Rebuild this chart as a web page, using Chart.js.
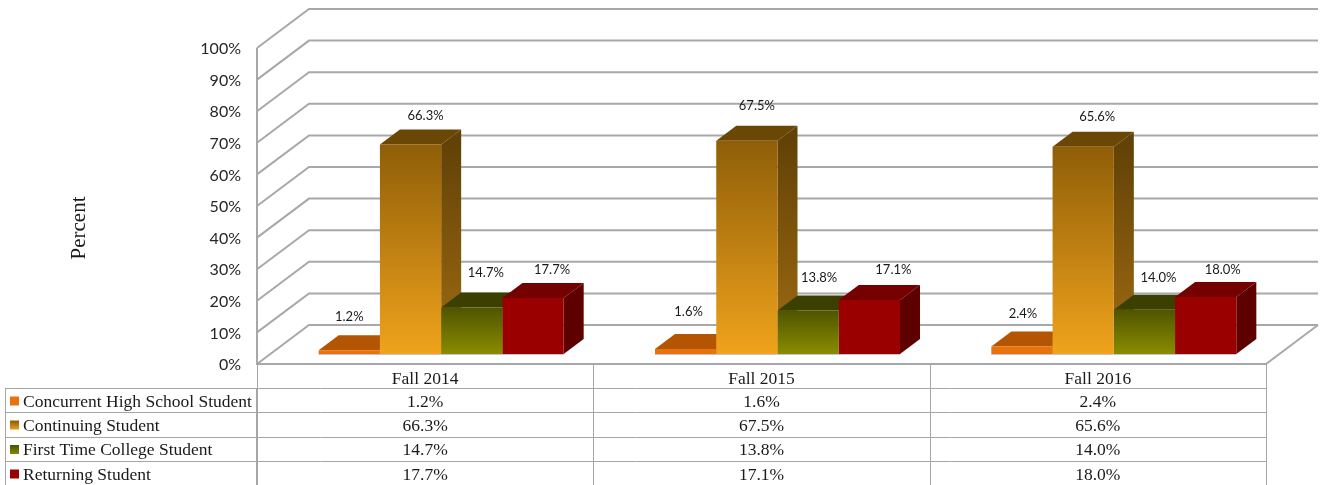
<!DOCTYPE html>
<html>
<head>
<meta charset="utf-8">
<title>Student type by fall term</title>
<script src="https://cdn.jsdelivr.net/npm/chart.js@4"></script>
<style>
  html, body { margin: 0; padding: 0; background: #fff; overflow: hidden; }
  canvas { display: block; }
</style>
</head>
<body>
<canvas id="barChart" width="1323" height="485"></canvas>
<script>
const terms = ['Fall 2014', 'Fall 2015', 'Fall 2016'];
const concurrent = [1.2, 1.6, 2.4];
const continuing = [66.3, 67.5, 65.6];
const firstTime = [14.7, 13.8, 14.0];
const returning = [17.7, 17.1, 18.0];

// x, y nudges for the data labels, they were hand placed in the original
const labelNudges = [
  [[0, -33], [3, -37], [1, -33]],
  [[15, -29], [10, -35], [14, -30]],
  [[14, -35], [11, -33], [14, -32]],
  [[19, -28], [24, -30], [17, -27]]
];

const grid = '#a8a8a8';
const floorShift = { x: 16, y: 10 };   // bars stand this far in from the front edge of the floor
const wallDepth = { x: 52, y: -39 };
const barDepth = { x: 20, y: -15 };

function frontGradient(ctx, top, bottom, from, to) {
  const g = ctx.createLinearGradient(0, top, 0, bottom);
  g.addColorStop(0, from);
  g.addColorStop(1, to);
  return g;
}

function makeDataset(label, data, colors) {
  return {
    label: label,
    data: data,
    colors: colors,
    backgroundColor: function(c) {
      const el = c.element;
      if (!el || !c.chart.chartArea) return colors.to;
      const y = c.chart.scales.y;
      const top = y.getPixelForValue(c.raw);
      return frontGradient(c.chart.ctx, top, y.getPixelForValue(0), colors.from, colors.to);
    },
    borderWidth: 0
  };
}

// back wall, side wall and floor, all from the value scale
const wallsPlugin = {
  id: 'walls',
  beforeDatasetsDraw(chart) {
    const ctx = chart.ctx;
    const y = chart.scales.y;
    const left = chart.chartArea.left - floorShift.x;
    const right = chart.chartArea.right - floorShift.x;
    ctx.save();
    ctx.strokeStyle = grid;
    ctx.lineWidth = 2;
    ctx.lineJoin = 'miter';
    y.ticks.forEach(function(t) {
      const py = y.getPixelForValue(t.value) + floorShift.y;
      ctx.beginPath();
      ctx.moveTo(left, py);
      ctx.lineTo(left + wallDepth.x, py + wallDepth.y);
      ctx.lineTo(right + wallDepth.x, py + wallDepth.y);
      ctx.stroke();
    });
    const zero = y.getPixelForValue(0) + floorShift.y;
    ctx.beginPath();
    ctx.moveTo(left, y.getPixelForValue(100) + floorShift.y);
    ctx.lineTo(left, zero);
    ctx.lineTo(right, zero);
    ctx.lineTo(right + wallDepth.x, zero + wallDepth.y);
    ctx.stroke();
    ctx.restore();
  }
};

// top and side of each bar, the front is the real chart.js bar
const barSidesPlugin = {
  id: 'barSides',
  beforeDatasetsDraw(chart) {
    const ctx = chart.ctx;
    const base = chart.scales.y.getPixelForValue(0);
    chart.data.datasets.forEach(function(ds, i) {
      chart.getDatasetMeta(i).data.forEach(function(bar) {
        const l = bar.x - bar.width / 2;
        const r = bar.x + bar.width / 2;
        const t = bar.y;
        ctx.fillStyle = ds.colors.top;
        ctx.beginPath();
        ctx.moveTo(l, t);
        ctx.lineTo(l + barDepth.x, t + barDepth.y);
        ctx.lineTo(r + barDepth.x, t + barDepth.y);
        ctx.lineTo(r, t);
        ctx.closePath();
        ctx.fill();
        ctx.fillStyle = frontGradient(ctx, t, base, ds.colors.sideFrom, ds.colors.sideTo);
        ctx.beginPath();
        ctx.moveTo(r, t);
        ctx.lineTo(r + barDepth.x, t + barDepth.y);
        ctx.lineTo(r + barDepth.x, base + barDepth.y);
        ctx.lineTo(r, base);
        ctx.closePath();
        ctx.fill();
        // faint shadow along the foot of the bar
        ctx.fillStyle = '#c4c4c4';
        ctx.fillRect(l, base, r - l, 1);
      });
    });
  }
};

const dataLabelsPlugin = {
  id: 'dataLabels',
  afterDatasetsDraw(chart) {
    const ctx = chart.ctx;
    ctx.save();
    ctx.font = '13px Lato';
    ctx.fillStyle = '#1a1a1a';
    ctx.textAlign = 'center';
    ctx.textBaseline = 'middle';
    chart.data.datasets.forEach(function(ds, i) {
      chart.getDatasetMeta(i).data.forEach(function(bar, j) {
        const n = labelNudges[i][j];
        ctx.fillText(ds.data[j].toFixed(1) + '%', bar.x + n[0], bar.y + n[1]);
      });
    });
    ctx.restore();
  }
};

// the data table under the plot, with the legend keys in its first column
const dataTablePlugin = {
  id: 'dataTable',
  afterDraw(chart) {
    const ctx = chart.ctx;
    const left = chart.chartArea.left - floorShift.x;
    const colWidth = chart.chartArea.width / terms.length;
    const tableLeft = 5;
    const headTop = 364;
    const rowLines = [389, 413, 437.5, 462];
    ctx.save();
    ctx.strokeStyle = '#a6a6a6';
    ctx.lineWidth = 1;
    ctx.beginPath();
    rowLines.forEach(function(py) {
      ctx.moveTo(tableLeft, Math.round(py) - 0.5);
      ctx.lineTo(left + colWidth * terms.length, Math.round(py) - 0.5);
    });
    ctx.moveTo(tableLeft + 0.5, rowLines[0]);
    ctx.lineTo(tableLeft + 0.5, 485);
    for (let i = 0; i <= terms.length; i++) {
      const px = Math.round(left + colWidth * i) + 0.5;
      ctx.moveTo(px, headTop);
      ctx.lineTo(px, 485);
    }
    ctx.stroke();
    ctx.lineWidth = 2;
    ctx.beginPath();
    ctx.moveTo(left, rowLines[0] - 1);
    ctx.lineTo(left, 485);
    ctx.stroke();

    ctx.font = '17.5px "Liberation Serif"';
    ctx.fillStyle = '#1a1a1a';
    ctx.textBaseline = 'middle';
    ctx.textAlign = 'center';
    terms.forEach(function(term, i) {
      ctx.fillText(term, left + colWidth * (i + 0.5), 379);
    });
    chart.data.datasets.forEach(function(ds, r) {
      const py = rowLines[r] + 13;
      ctx.textAlign = 'left';
      ctx.fillStyle = frontGradient(ctx, py - 5, py + 4, ds.colors.from, ds.colors.to);
      ctx.fillRect(10, py - 5.5, 9, 9);
      ctx.fillStyle = '#1a1a1a';
      ctx.fillText(ds.label, 23, py);
      ctx.textAlign = 'center';
      ds.data.forEach(function(v, i) {
        ctx.fillText(v.toFixed(1) + '%', left + colWidth * (i + 0.5), py);
      });
    });

    ctx.translate(79, 228);
    ctx.rotate(-Math.PI / 2);
    ctx.font = '21px "Liberation Serif"';
    ctx.fillText('Percent', 0, 0);
    ctx.restore();
  }
};

const ctx = document.getElementById('barChart').getContext('2d');

new Chart(ctx, {
  type: 'bar',
  data: {
    labels: terms,
    datasets: [
      makeDataset('Concurrent High School Student', concurrent, {
        from: '#e8720c', to: '#e8720c', top: '#b35503', sideFrom: '#a04c02', sideTo: '#a04c02'
      }),
      makeDataset('Continuing Student', continuing, {
        from: '#8f5e08', to: '#f0a31c', top: '#6b4705', sideFrom: '#634207', sideTo: '#a06c12'
      }),
      makeDataset('First Time College Student', firstTime, {
        from: '#4f5400', to: '#8a8c00', top: '#3b3f00', sideFrom: '#3b3f00', sideTo: '#5a5c00'
      }),
      makeDataset('Returning Student', returning, {
        from: '#9a0000', to: '#9a0000', top: '#740000', sideFrom: '#5e0000', sideTo: '#5e0000'
      })
    ]
  },
  plugins: [wallsPlugin, barSidesPlugin, dataLabelsPlugin, dataTablePlugin],
  options: {
    responsive: false,
    animation: false,
    layout: { padding: { top: 38, right: 41, bottom: 131, left: 0 } },
    datasets: { bar: { categoryPercentage: 0.7285, barPercentage: 1 } },
    plugins: {
      legend: { display: false },
      title: { display: false },
      tooltip: { enabled: false }
    },
    scales: {
      x: { display: false, grid: { display: false } },
      y: {
        min: 0,
        max: 100,
        afterFit(scale) {
          scale.width = 273;
          // tick padding would otherwise push the plot top down
          scale.paddingTop = 0;
          scale.paddingBottom = 0;
        },
        grid: { display: false, drawTicks: false },
        border: { display: false },
        ticks: {
          stepSize: 10,
          padding: 32,
          labelOffset: 11,
          color: '#262626',
          font: { family: 'Lato', size: 16 },
          callback: function(v) { return v + '%'; }
        }
      }
    }
  }
});
</script>
</body>
</html>
